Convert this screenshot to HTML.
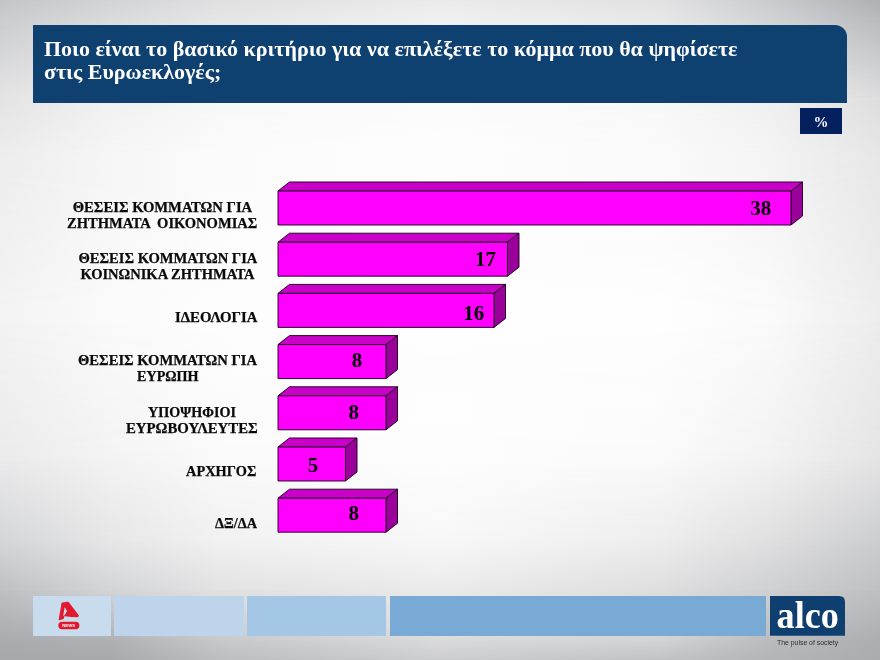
<!DOCTYPE html>
<html lang="el">
<head>
<meta charset="utf-8">
<title>Alco – Ευρωεκλογές</title>
<style>
html,body{margin:0;padding:0;}
body{width:880px;height:660px;overflow:hidden;position:relative;font-family:"Liberation Serif",serif;
 background:#fdfdfd;
}
.bgl{position:absolute;left:0;top:0;width:880px;height:660px;}
#banner{position:absolute;left:33.3px;top:25.4px;width:813.3px;height:77.2px;background:#0e4070;border-top-right-radius:12px;}
#title{position:absolute;left:44px;top:36.5px;margin:0;color:#fff;font:bold 22px/23px "Liberation Serif",serif;white-space:nowrap;}
#pct{position:absolute;left:800.2px;top:108.3px;width:41.8px;height:25.5px;background:#05205f;color:#fff;font:bold 15px/28.5px "Liberation Serif",serif;text-align:center;}
#chart{position:absolute;left:0;top:0;}
#chart .bar polygon,#chart .bar rect{stroke:#220022;stroke-width:0.95;stroke-linejoin:round;}
#chart text.v{font:bold 21px "Liberation Serif",serif;text-anchor:middle;fill:#000;}
#chart text.c{font:bold 14.5px "Liberation Serif",serif;fill:#0a0a0a;stroke:#0a0a0a;stroke-width:0.25px;}
.fb{position:absolute;top:595.8px;height:40.3px;}
</style>
</head>
<body>
<div id="bg">
<div class="bgl" style="background:linear-gradient(to right, rgb(196,197,199) 0px, rgb(211,212,214) 110px, rgb(224,224,225) 220px, rgb(235,235,236) 440px, rgb(226,226,227) 660px, rgb(203,204,206) 770px, rgb(175,176,179) 880px)"></div>
<div class="bgl" style="background:linear-gradient(to right, rgb(205,206,208) 0px, rgb(220,220,221) 110px, rgb(231,231,232) 220px, rgb(241,241,241) 440px, rgb(233,233,234) 660px, rgb(211,212,214) 770px, rgb(189,190,192) 880px);-webkit-mask-image:linear-gradient(to bottom, rgba(0,0,0,0) 0px, rgba(0,0,0,1) 25px);mask-image:linear-gradient(to bottom, rgba(0,0,0,0) 0px, rgba(0,0,0,1) 25px)"></div>
<div class="bgl" style="background:linear-gradient(to right, rgb(228,228,229) 0px, rgb(241,241,241) 110px, rgb(248,248,248) 220px, rgb(252,252,252) 440px, rgb(248,248,248) 660px, rgb(240,240,241) 770px, rgb(222,222,223) 880px);-webkit-mask-image:linear-gradient(to bottom, rgba(0,0,0,0) 25px, rgba(0,0,0,1) 100px);mask-image:linear-gradient(to bottom, rgba(0,0,0,0) 25px, rgba(0,0,0,1) 100px)"></div>
<div class="bgl" style="background:linear-gradient(to right, rgb(237,237,238) 0px, rgb(246,246,246) 110px, rgb(251,251,251) 220px, rgb(253,253,253) 440px, rgb(250,250,250) 660px, rgb(244,244,244) 770px, rgb(231,231,232) 880px);-webkit-mask-image:linear-gradient(to bottom, rgba(0,0,0,0) 100px, rgba(0,0,0,1) 160px);mask-image:linear-gradient(to bottom, rgba(0,0,0,0) 100px, rgba(0,0,0,1) 160px)"></div>
<div class="bgl" style="background:linear-gradient(to right, rgb(243,243,243) 0px, rgb(250,250,250) 110px, rgb(253,253,253) 220px, rgb(254,254,254) 440px, rgb(254,254,254) 660px, rgb(250,250,250) 770px, rgb(237,237,238) 880px);-webkit-mask-image:linear-gradient(to bottom, rgba(0,0,0,0) 160px, rgba(0,0,0,1) 320px);mask-image:linear-gradient(to bottom, rgba(0,0,0,0) 160px, rgba(0,0,0,1) 320px)"></div>
<div class="bgl" style="background:linear-gradient(to right, rgb(234,234,235) 0px, rgb(243,243,243) 110px, rgb(250,250,250) 220px, rgb(253,253,253) 440px, rgb(250,250,250) 660px, rgb(242,242,242) 770px, rgb(228,228,229) 880px);-webkit-mask-image:linear-gradient(to bottom, rgba(0,0,0,0) 320px, rgba(0,0,0,1) 460px);mask-image:linear-gradient(to bottom, rgba(0,0,0,0) 320px, rgba(0,0,0,1) 460px)"></div>
<div class="bgl" style="background:linear-gradient(to right, rgb(211,212,214) 0px, rgb(229,229,230) 110px, rgb(240,240,241) 220px, rgb(247,247,247) 440px, rgb(236,236,237) 660px, rgb(222,222,223) 770px, rgb(203,204,206) 880px);-webkit-mask-image:linear-gradient(to bottom, rgba(0,0,0,0) 460px, rgba(0,0,0,1) 545px);mask-image:linear-gradient(to bottom, rgba(0,0,0,0) 460px, rgba(0,0,0,1) 545px)"></div>
<div class="bgl" style="background:linear-gradient(to right, rgb(191,192,194) 0px, rgb(211,212,214) 110px, rgb(226,226,227) 220px, rgb(234,234,235) 440px, rgb(222,222,223) 660px, rgb(207,208,210) 770px, rgb(191,192,194) 880px);-webkit-mask-image:linear-gradient(to bottom, rgba(0,0,0,0) 545px, rgba(0,0,0,1) 590px);mask-image:linear-gradient(to bottom, rgba(0,0,0,0) 545px, rgba(0,0,0,1) 590px)"></div>
<div class="bgl" style="background:linear-gradient(to right, rgb(170,171,174) 0px, rgb(176,177,180) 110px, rgb(200,201,203) 220px, rgb(219,219,220) 440px, rgb(211,212,214) 660px, rgb(187,188,190) 770px, rgb(173,174,177) 880px);-webkit-mask-image:linear-gradient(to bottom, rgba(0,0,0,0) 590px, rgba(0,0,0,1) 640px);mask-image:linear-gradient(to bottom, rgba(0,0,0,0) 590px, rgba(0,0,0,1) 640px)"></div>
<div class="bgl" style="background:linear-gradient(to right, rgb(167,168,171) 0px, rgb(168,169,172) 110px, rgb(188,189,191) 220px, rgb(204,205,207) 440px, rgb(193,194,196) 660px, rgb(179,180,183) 770px, rgb(171,172,175) 880px);-webkit-mask-image:linear-gradient(to bottom, rgba(0,0,0,0) 640px, rgba(0,0,0,1) 660px);mask-image:linear-gradient(to bottom, rgba(0,0,0,0) 640px, rgba(0,0,0,1) 660px)"></div>
</div>
<div id="banner"></div>
<h1 id="title">Ποιο είναι το βασικό κριτήριο για να επιλέξετε το κόμμα που θα ψηφίσετε<br>στις Ευρωεκλογές;</h1>
<div id="pct">%</div>
<svg id="chart" width="880" height="660" viewBox="0 0 880 660">
<g class="bar"><polygon points="278.0,191.00 289.5,182.00 802.50,182.00 791.00,191.00" fill="#c800c8"/><polygon points="791.00,191.00 802.50,182.00 802.50,216.00 791.00,225.00" fill="#9a009a"/><rect x="278.0" y="191.00" width="513.00" height="34.0" fill="#ff00ff"/></g><text x="760.8" y="215" class="v">38</text>
<g class="bar"><polygon points="278.0,242.20 289.5,233.20 519.00,233.20 507.50,242.20" fill="#c800c8"/><polygon points="507.50,242.20 519.00,233.20 519.00,267.20 507.50,276.20" fill="#9a009a"/><rect x="278.0" y="242.20" width="229.50" height="34.0" fill="#ff00ff"/></g><text x="485.5" y="266" class="v">17</text>
<g class="bar"><polygon points="278.0,293.40 289.5,284.40 505.50,284.40 494.00,293.40" fill="#c800c8"/><polygon points="494.00,293.40 505.50,284.40 505.50,318.40 494.00,327.40" fill="#9a009a"/><rect x="278.0" y="293.40" width="216.00" height="34.0" fill="#ff00ff"/></g><text x="473.75" y="319.5" class="v">16</text>
<g class="bar"><polygon points="278.0,344.60 289.5,335.60 397.50,335.60 386.00,344.60" fill="#c800c8"/><polygon points="386.00,344.60 397.50,335.60 397.50,369.60 386.00,378.60" fill="#9a009a"/><rect x="278.0" y="344.60" width="108.00" height="34.0" fill="#ff00ff"/></g><text x="356.9" y="367" class="v">8</text>
<g class="bar"><polygon points="278.0,395.80 289.5,386.80 397.50,386.80 386.00,395.80" fill="#c800c8"/><polygon points="386.00,395.80 397.50,386.80 397.50,420.80 386.00,429.80" fill="#9a009a"/><rect x="278.0" y="395.80" width="108.00" height="34.0" fill="#ff00ff"/></g><text x="353.75" y="418.75" class="v">8</text>
<g class="bar"><polygon points="278.0,447.00 289.5,438.00 357.00,438.00 345.50,447.00" fill="#c800c8"/><polygon points="345.50,447.00 357.00,438.00 357.00,472.00 345.50,481.00" fill="#9a009a"/><rect x="278.0" y="447.00" width="67.50" height="34.0" fill="#ff00ff"/></g><text x="313" y="471.8" class="v">5</text>
<g class="bar"><polygon points="278.0,498.20 289.5,489.20 397.50,489.20 386.00,498.20" fill="#c800c8"/><polygon points="386.00,498.20 397.50,489.20 397.50,523.20 386.00,532.20" fill="#9a009a"/><rect x="278.0" y="498.20" width="108.00" height="34.0" fill="#ff00ff"/></g><text x="353.75" y="519.5" class="v">8</text>
<text x="72.7" y="212" textLength="179.5" lengthAdjust="spacingAndGlyphs" class="c" xml:space="preserve" style="white-space:pre">ΘΕΣΕΙΣ ΚΟΜΜΑΤΩΝ ΓΙΑ</text>
<text x="67.0" y="227.9" textLength="190.3" lengthAdjust="spacingAndGlyphs" class="c" xml:space="preserve" style="white-space:pre">ΖΗΤΗΜΑΤΑ  ΟΙΚΟΝΟΜΙΑΣ</text>
<text x="78.4" y="262.7" textLength="179.0" lengthAdjust="spacingAndGlyphs" class="c" xml:space="preserve" style="white-space:pre">ΘΕΣΕΙΣ ΚΟΜΜΑΤΩΝ ΓΙΑ</text>
<text x="80.5" y="278.8" textLength="174.0" lengthAdjust="spacingAndGlyphs" class="c" xml:space="preserve" style="white-space:pre">ΚΟΙΝΩΝΙΚΑ ΖΗΤΗΜΑΤΑ</text>
<text x="175.0" y="321.8" textLength="82.5" lengthAdjust="spacingAndGlyphs" class="c" xml:space="preserve" style="white-space:pre">ΙΔΕΟΛΟΓΙΑ</text>
<text x="78.0" y="365.1" textLength="179.0" lengthAdjust="spacingAndGlyphs" class="c" xml:space="preserve" style="white-space:pre">ΘΕΣΕΙΣ ΚΟΜΜΑΤΩΝ ΓΙΑ</text>
<text x="137.0" y="381.3" textLength="61.6" lengthAdjust="spacingAndGlyphs" class="c" xml:space="preserve" style="white-space:pre">ΕΥΡΩΠΗ</text>
<text x="148.1" y="416.7" textLength="87.8" lengthAdjust="spacingAndGlyphs" class="c" xml:space="preserve" style="white-space:pre">ΥΠΟΨΗΦΙΟΙ</text>
<text x="126.0" y="432.5" textLength="131.7" lengthAdjust="spacingAndGlyphs" class="c" xml:space="preserve" style="white-space:pre">ΕΥΡΩΒΟΥΛΕΥΤΕΣ</text>
<text x="186.1" y="475.7" textLength="70.3" lengthAdjust="spacingAndGlyphs" class="c" xml:space="preserve" style="white-space:pre">ΑΡΧΗΓΟΣ</text>
<text x="215.0" y="527.6" textLength="42.0" lengthAdjust="spacingAndGlyphs" class="c" xml:space="preserve" style="white-space:pre">ΔΞ/ΔΑ</text>
</svg>
<div class="fb" style="left:33.2px;width:77.4px;background:#c9dcee;"></div>
<div class="fb" style="left:114px;width:130px;background:#bdd4ea;"></div>
<div class="fb" style="left:247.1px;width:138.6px;background:#a4c7e5;"></div>
<div class="fb" style="left:389.5px;width:376.7px;background:#78aad5;"></div>
<svg id="foot" style="position:absolute;left:0;top:590px" width="880" height="70" viewBox="0 590 880 70">
<path d="M62.3 602.5 L67.4 601.85 Q68.6 601.7 69.2 602.7 L78.6 614.9 Q79 615.5 78.6 616.2 L78.2 616.9 Q78 617.25 77.5 617.2 L71.7 617.1 L64.9 616.3 L64.1 616.8 L63.85 618.6 Q63.8 619 63.4 619.1 L59.6 620.2 Q58.6 620.5 58.7 619.5 L61.5 603.3 Q61.6 602.6 62.3 602.5 Z M64.64 607 L66.93 611.1 L64.9 614.9 L63.2 615.9 Z" fill="#e2182e" fill-rule="evenodd"/>
<rect x="58.3" y="621.7" width="21.1" height="7.5" rx="3.75" fill="#e2182e"/>
<text x="68.7" y="627.15" text-anchor="middle" font-family="Liberation Sans, sans-serif" font-weight="bold" font-size="4.3" fill="#fff">NEWS</text>
<path d="M770 596 H839 Q845 596 845 602 V635.8 H770 Z" fill="#0e3f70"/>
<text x="776.6" y="628.4" textLength="62.2" lengthAdjust="spacingAndGlyphs" font-family="Liberation Serif, serif" font-weight="bold" font-size="37.3" fill="#fff">alco</text>
<text x="777" y="645.3" textLength="61.2" lengthAdjust="spacingAndGlyphs" font-family="Liberation Sans, sans-serif" font-size="6.9" fill="#2e2e2e">The pulse of society</text>
</svg>
</body>
</html>
